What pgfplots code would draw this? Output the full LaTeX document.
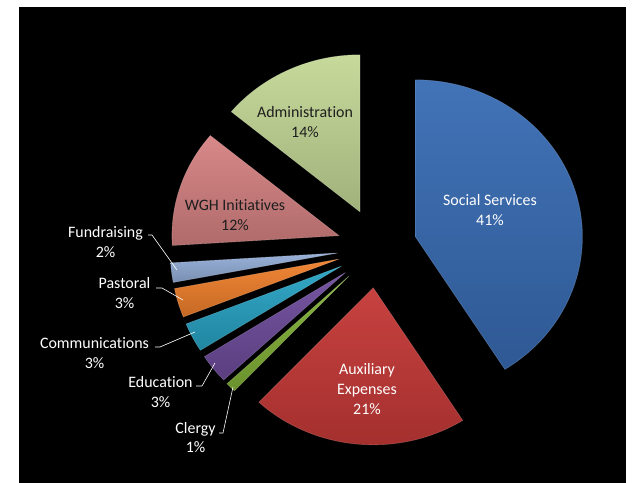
\documentclass[border=0pt]{standalone}
\usepackage{pgfplots}
\pgfplotsset{compat=1.18}
\usepackage{pgfplotstable}
\usepackage{fontspec}
\setmainfont{Carlito}[Ligatures={NoCommon,NoContextual}]

\definecolor{cSocial}{RGB}{56,108,180}
\definecolor{cAux}{RGB}{196,56,54}
\definecolor{cClergy}{RGB}{130,178,55}
\definecolor{cEdu}{RGB}{110,76,156}
\definecolor{cComm}{RGB}{40,163,196}
\definecolor{cPast}{RGB}{240,128,44}
\definecolor{cFund}{RGB}{148,174,216}
\definecolor{cWGH}{RGB}{214,130,130}
\definecolor{cAdmin}{RGB}{196,216,150}
\definecolor{darktext}{RGB}{30,30,30}

% share of each item, clockwise from 12 o'clock
\pgfplotstableread[col sep=comma]{
name,pct,col
Social Services,41,cSocial
Auxiliary Expenses,21,cAux
Clergy,1,cClergy
Education,3,cEdu
Communications,3,cComm
Pastoral,3,cPast
Fundraising,2,cFund
WGH Initiatives,12,cWGH
Administration,14,cAdmin
}\pietable

\begin{document}
\begin{tikzpicture}[lbl/.style={align=center, font=\fontsize{16}{20}\selectfont}]
\begin{axis}[
    width=633bp, height=483bp, scale only axis,
    xmin=0, xmax=633, ymin=0, ymax=483,
    hide axis, clip=false,
]
% background: white page, black chart area
\fill[white] (axis cs:0,0) rectangle (axis cs:633,483);
\fill[black] (axis cs:19,0) rectangle (axis cs:626,476);

\pgfplotsextra{%
  \gdef\cum{0}%
  \pgfplotstablegetrowsof{\pietable}%
  \pgfmathtruncatemacro\nrows{\pgfplotsretval-1}%
  \foreach \i in {0,...,\nrows}{%
    \pgfplotstablegetelem{\i}{pct}\of\pietable \let\p\pgfplotsretval
    \pgfplotstablegetelem{\i}{col}\of\pietable \let\slicecol\pgfplotsretval
    \pgfmathsetmacro\ta{3.6*\cum}%
    \pgfmathsetmacro\tb{3.6*(\cum+\p)}%
    \pgfmathsetmacro\tm{(\ta+\tb)/2}%
    \pgfmathsetmacro\ax{377+40*sin(\tm)}%
    \pgfmathsetmacro\ay{235+40*cos(\tm)}%
    \pgfmathsetmacro\pa{90-\ta}%
    \pgfmathsetmacro\pb{90-\tb}%
    \shade[top color=\slicecol!95!white, bottom color=\slicecol!82!black]
      (axis cs:\ax,\ay) -- ++(\pa:167bp and 157bp)
      arc[start angle=\pa, end angle=\pb, x radius=167bp, y radius=157bp] -- cycle;
    \draw[\slicecol!60!white, line width=0.6pt, opacity=0.4]
      (axis cs:\ax,\ay) -- ++(\pa:167bp and 157bp)
      arc[start angle=\pa, end angle=\pb, x radius=167bp, y radius=157bp] -- cycle;
    \pgfmathsetmacro\newcum{\cum+\p}%
    \xdef\cum{\newcum}%
  }%
}

% labels inside slices
\node[lbl, white] at (axis cs:490,273) {Social Services\\41\%};
\node[lbl, white] at (axis cs:367,94) {Auxiliary\\Expenses\\21\%};
\node[lbl, darktext] at (axis cs:305,361) {Administration\\14\%};
\node[lbl, darktext] at (axis cs:235,268) {WGH Initiatives\\12\%};

% outside labels with leader lines
\node[lbl, white] at (axis cs:105.5,241) {Fundraising\\2\%};
\node[lbl, white] at (axis cs:124.5,190) {Pastoral\\3\%};
\node[lbl, white] at (axis cs:94.5,130) {Communications\\3\%};
\node[lbl, white] at (axis cs:160.5,91) {Education\\3\%};
\node[lbl, white] at (axis cs:195.5,45.5) {Clergy\\1\%};
\begin{scope}[white, line width=0.6pt]
\draw (axis cs:148,248) -- (axis cs:152,248) -- (axis cs:177,213);
\draw (axis cs:156,195) -- (axis cs:162,195) -- (axis cs:183,183);
\draw (axis cs:155,136) -- (axis cs:160,136) -- (axis cs:195,151);
\draw (axis cs:196,97) -- (axis cs:202,97) -- (axis cs:215,120);
\draw (axis cs:219,50) -- (axis cs:223,50) -- (axis cs:233,96);
\end{scope}
\end{axis}
\end{tikzpicture}
\end{document}
